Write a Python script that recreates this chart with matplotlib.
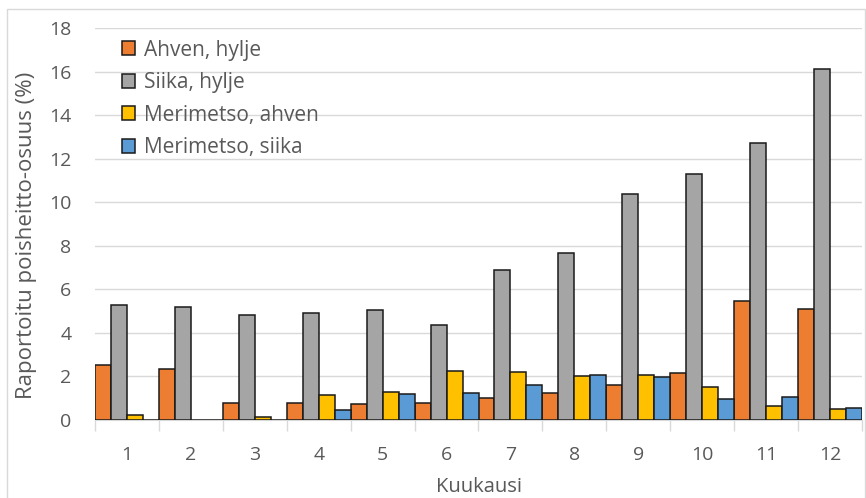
import numpy as np
import matplotlib
matplotlib.use("Agg")
import matplotlib.pyplot as plt

months = [str(m) for m in range(1, 13)]
series_names = ["Ahven, hylje", "Siika, hylje", "Merimetso, ahven", "Merimetso, siika"]
ahven_hylje = [2.53, 2.34, 0.80, 0.80, 0.72, 0.79, 1.00, 1.22, 1.62, 2.16, 5.48, 5.09]
siika_hylje = [5.28, 5.19, 4.81, 4.91, 5.07, 4.36, 6.90, 7.69, 10.37, 11.29, 12.72, 16.11]
merimetso_ahven = [0.22, 0.0, 0.12, 1.15, 1.28, 2.23, 2.20, 2.02, 2.05, 1.53, 0.64, 0.49]
merimetso_siika = [0.0, 0.0, 0.0, 0.44, 1.21, 1.23, 1.63, 2.08, 1.99, 0.95, 1.07, 0.57]
colors = ["#ED7D31", "#A5A5A5", "#FFC000", "#5B9BD5"]

TXT = "#595959"
plt.rcParams["font.family"] = ["Open Sans", "DejaVu Sans"]

fig = plt.figure(figsize=(8.66, 4.98), dpi=100)
ax = fig.add_axes([95 / 866, 1 - 420 / 498, 767 / 866, 392 / 498])

x = np.arange(len(months))
w = 0.25
data = [ahven_hylje, siika_hylje, merimetso_ahven, merimetso_siika]
for i, (vals, name, c) in enumerate(zip(data, series_names, colors)):
    ax.bar(x + (i - 1.5) * w, vals, width=w, color=c, edgecolor="#1a1a1a",
           linewidth=1.1, label=name, zorder=3)

ax.set_xlim(-0.5, len(months) - 0.5)
ax.set_ylim(0, 18)
ax.set_yticks(np.arange(0, 19, 2))
ax.set_xticks(x)
ax.set_xticklabels(months)
ax.set_xticks(np.arange(-0.5, len(months)), minor=True)
ax.tick_params(axis="x", which="major", length=0, pad=19, labelsize=14, labelcolor=TXT)
ax.tick_params(axis="x", which="minor", length=8, color="#D9D9D9", width=1)
ax.tick_params(axis="y", length=0, pad=17, labelsize=14, labelcolor=TXT)
ax.grid(axis="y", color="#D9D9D9", lw=1, zorder=0)
for s in ("left", "right", "top"):
    ax.spines[s].set_visible(False)
ax.spines["bottom"].set_color("#D9D9D9")

ax.set_xlabel("Kuukausi", fontsize=14.5, color=TXT, labelpad=9)
ax.set_ylabel("Raportoitu poisheitto-osuus (%)", fontsize=16, color=TXT)
ax.yaxis.set_label_coords(-0.076, 0.47)

leg = ax.legend(loc="upper left", bbox_to_anchor=(0.035, 0.97), frameon=False,
                fontsize=15, handlelength=0.65, handleheight=0.65,
                handletextpad=0.4, labelspacing=0.55, borderpad=0,
                borderaxespad=0)
for t in leg.get_texts():
    t.set_color(TXT)

# light chart-area border
fig.add_artist(plt.Rectangle((7 / 866, -0.05), 858 / 866, 1.05 - 9 / 498,
                             transform=fig.transFigure, fill=False,
                             edgecolor="#D9D9D9", lw=1))

fig.savefig("out.png", dpi=100)
